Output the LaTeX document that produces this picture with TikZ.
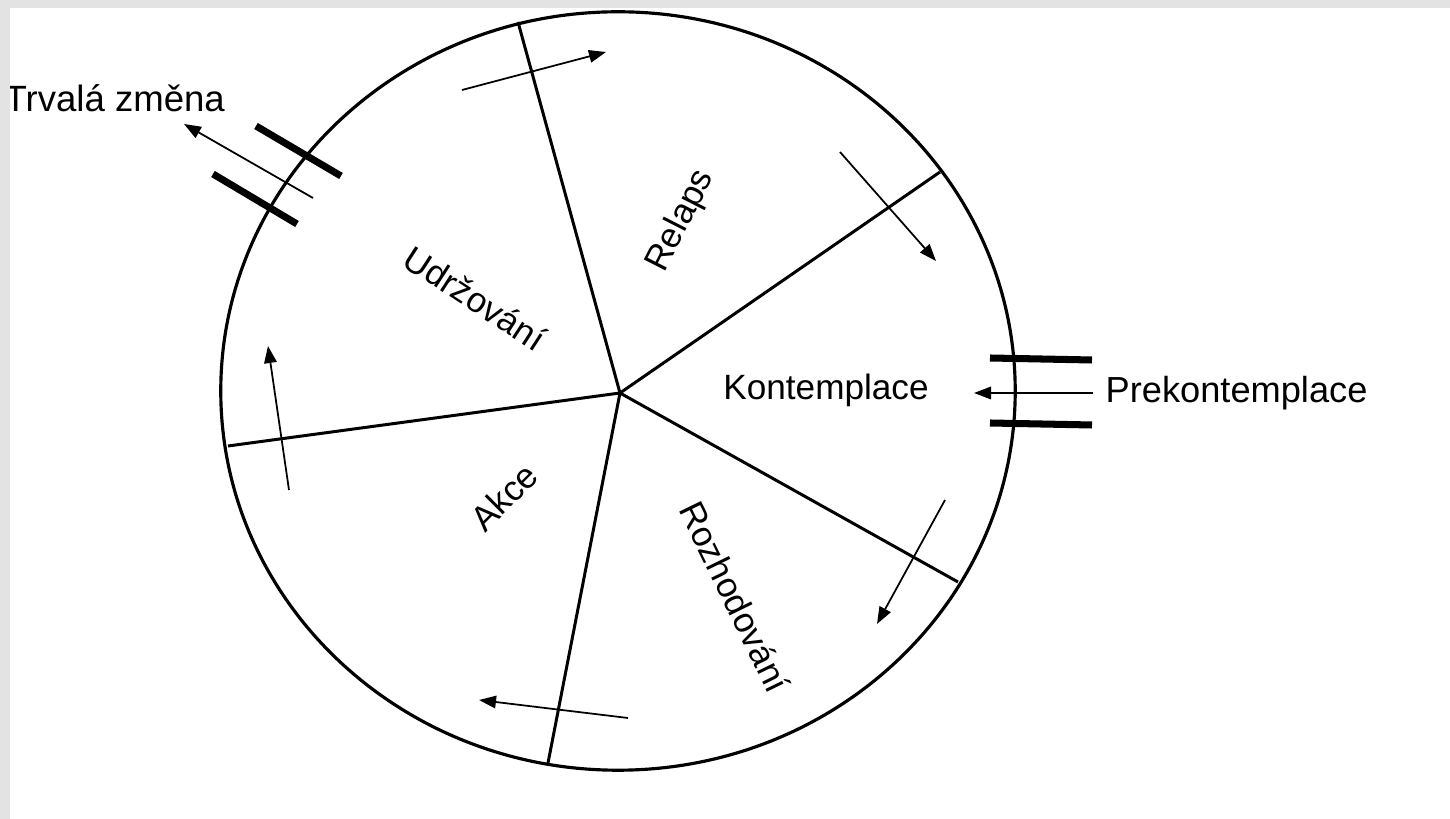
\documentclass[tikz,border=0pt]{standalone}
\usepackage{fontspec}
\setmainfont{Liberation Sans}
\usetikzlibrary{arrows.meta}
\begin{document}
\begin{tikzpicture}[x=0.01cm,y=-0.01cm,
  rim/.style={line width=0.9pt},
  spoke/.style={line width=0.85pt},
  flow/.style={line width=0.5pt,-{Triangle[length=1.7mm,width=1.25mm]}},
  bar/.style={line width=2pt},
  lbl/.style={font=\fontsize{10}{12}\selectfont, inner sep=0pt}]
\useasboundingbox (0,0) rectangle (1450,819);
\fill[white] (0,0) rectangle (1450,819);
% wheel
\coordinate (hub) at (620,393);
\draw[rim] (618,391) ellipse [x radius=3.97cm, y radius=3.79cm];
\coordinate (s1) at (518,22);
\coordinate (s2) at (940,172);
\coordinate (s3) at (958,582);
\coordinate (s4) at (548,763);
\coordinate (s5) at (228,446);
\foreach \s in {s1,s2,s3,s4,s5} \draw[spoke] (hub) -- (\s);
% stage labels
\node[lbl, rotate=-33] (udr) at (475,298) {Udržování};
\node[lbl, rotate=63] (rel) at (681,221) {Relaps};
\node[lbl] (kon) at (826,390) {Kontemplace};
\node[lbl, rotate=-64] (roz) at (735,597) {Rozhodování};
\node[lbl, rotate=45] (akc) at (504,497) {Akce};
% circulating arrows
\coordinate (a1s) at (462,90);  \coordinate (a1e) at (606,52);
\coordinate (a2s) at (840,152); \coordinate (a2e) at (936,261);
\coordinate (a3s) at (945,500); \coordinate (a3e) at (877,624);
\coordinate (a4s) at (628,718); \coordinate (a4e) at (479,700);
\coordinate (a5s) at (289,490); \coordinate (a5e) at (268,346);
\draw[flow] (a1s) -- (a1e);
\draw[flow] (a2s) -- (a2e);
\draw[flow] (a3s) -- (a3e);
\draw[flow] (a4s) -- (a4e);
\draw[flow] (a5s) -- (a5e);
% entry: Prekontemplace
\node[lbl, anchor=west, font=\fontsize{10.3}{12}\selectfont] (pre) at (1105,393) {Prekontemplace};
\coordinate (pe) at (974,393);
\draw[flow] (1093,393) -- (pe);
\coordinate (b1a) at (990,358); \coordinate (b1b) at (1092,360);
\coordinate (b2a) at (990,423); \coordinate (b2b) at (1092,425);
\draw[bar] (b1a) -- (b1b);
\draw[bar] (b2a) -- (b2b);
% exit: Trvala zmena
\node[lbl, anchor=west, font=\fontsize{10.4}{12}\selectfont] (trv) at (4,98) {Trvalá změna};
\coordinate (ts) at (313,198); \coordinate (te) at (184,124);
\draw[flow] (ts) -- (te);
\coordinate (c1a) at (256,126); \coordinate (c1b) at (341,176);
\coordinate (c2a) at (213,174); \coordinate (c2b) at (297,224);
\draw[bar] (c1a) -- (c1b);
\draw[bar] (c2a) -- (c2b);
% scanned page margin
\fill[gray!22] (0,0) rectangle (1450,8);
\fill[gray!22] (0,0) rectangle (10,819);
\end{tikzpicture}
\end{document}
